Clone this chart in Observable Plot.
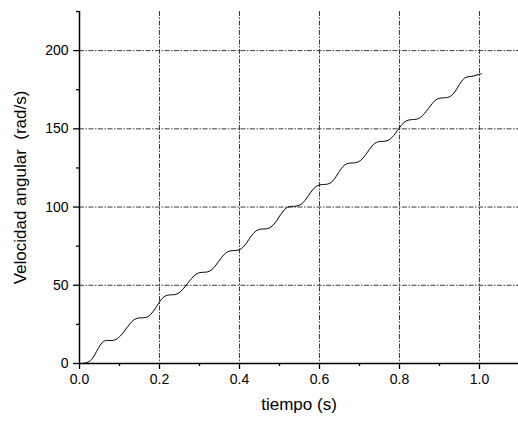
<!DOCTYPE html>
<html>
<head>
<meta charset="utf-8">
<script src="https://cdn.jsdelivr.net/npm/d3@7"></script>
<script src="https://cdn.jsdelivr.net/npm/@observablehq/plot@0.6"></script>
<style>
  html, body { margin: 0; padding: 0; background: #fff; }
  #chart { width: 518px; height: 423px; }
</style>
</head>
<body>
<div id="chart"></div>
<script>
// Time (s) and angular velocity (rad/s)
const tiempo = [
  0.000, 0.012, 0.025, 0.038,
  0.057, 0.076, 0.095, 0.116,
  0.136, 0.155, 0.174, 0.193,
  0.211, 0.230, 0.249, 0.270,
  0.291, 0.310, 0.329, 0.348,
  0.367, 0.386, 0.405, 0.423,
  0.441, 0.460, 0.479, 0.498,
  0.516, 0.535, 0.554, 0.573,
  0.591, 0.610, 0.629, 0.646,
  0.663, 0.682, 0.701, 0.720,
  0.738, 0.757, 0.776, 0.795,
  0.814, 0.833, 0.852, 0.872,
  0.891, 0.910, 0.929, 0.946,
  0.962, 0.981, 1.000, 1.005
];
const velocidad = [
  0.0, 0.2, 1.4, 5.5,
  13.4, 14.7, 16.0, 22.0,
  27.9, 29.2, 30.5, 36.6,
  42.6, 43.9, 45.2, 51.1,
  57.0, 58.3, 59.6, 65.3,
  70.9, 72.2, 73.5, 79.1,
  84.7, 86.0, 87.3, 93.3,
  99.2, 100.5, 101.8, 107.5,
  113.1, 114.4, 115.7, 121.3,
  126.9, 128.2, 129.5, 135.1,
  140.7, 142.0, 143.3, 149.0,
  154.6, 155.9, 157.2, 162.9,
  168.5, 169.8, 171.1, 176.7,
  182.3, 183.6, 184.9, 185.3
];

const xMajor = [0, 0.2, 0.4, 0.6, 0.8, 1.0];
const xMinor = [0.1, 0.3, 0.5, 0.7, 0.9];
const yMajor = [0, 50, 100, 150, 200];
const yMinor = [25, 75, 125, 175, 225];
const xGrid = [0.2, 0.4, 0.6, 0.8, 1.0];
const yGrid = [50, 100, 150, 200];
const xLabel = "tiempo (s)";
const yLabel = "Velocidad angular\u00a0 (rad/s)";

const data = tiempo.map((t, i) => ({t, v: velocidad[i]}));

const gridStyle = {stroke: "#3a3a3a", strokeWidth: 1, strokeDasharray: "5,1.5,1.5,1.5"};

const chart = Plot.plot({
  width: 518,
  height: 423,
  marginLeft: 79,
  marginRight: 0,
  marginTop: 11,
  marginBottom: 60,
  style: {fontFamily: "'Liberation Sans', Arial, sans-serif", fontSize: "14px", background: "#fff", color: "#000"},
  x: {domain: [0, 1.0975]},
  y: {domain: [0, 225]},
  marks: [
    Plot.ruleX(xGrid, {...gridStyle}),
    Plot.ruleY(yGrid, {...gridStyle}),
    Plot.axisX(xMajor, {tickSize: 6, tickPadding: 5, tickFormat: d3.format(".1f"), label: null, strokeWidth: 1.3}),
    Plot.axisX(xMinor, {tickSize: 3, tickFormat: () => "", label: null, strokeWidth: 1.3}),
    Plot.axisY(yMajor, {tickSize: 6, tickPadding: 5, tickFormat: d3.format("d"), label: null, strokeWidth: 1.3}),
    Plot.axisY(yMinor, {tickSize: 3, tickFormat: () => "", label: null, strokeWidth: 1.3}),
    Plot.ruleY([0], {stroke: "#000", strokeWidth: 1.5}),
    Plot.ruleX([0], {stroke: "#000", strokeWidth: 1.5}),
    Plot.line(data, {x: "t", y: "v", curve: "natural", stroke: "#000", strokeWidth: 1}),
    Plot.text([xLabel], {frameAnchor: "bottom", dy: 46, fontSize: 17, fill: "#000"}),
    Plot.text([yLabel], {frameAnchor: "left", textAnchor: "middle", rotate: -90, dx: -59, fontSize: 17, fill: "#000"})
  ]
});
document.getElementById("chart").appendChild(chart);
</script>
</body>
</html>
